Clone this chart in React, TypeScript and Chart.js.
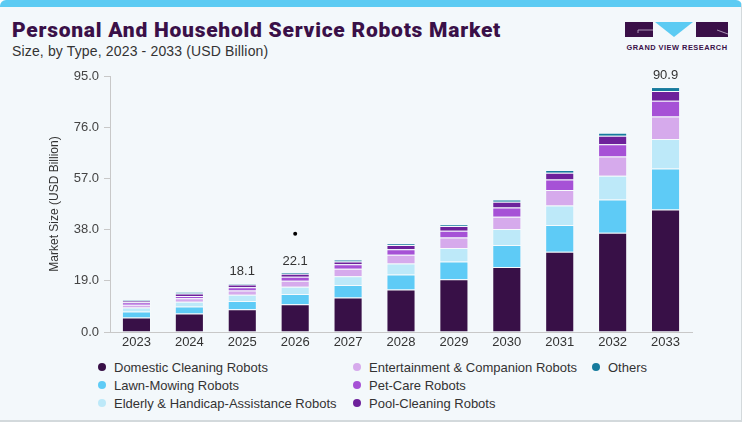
import React, { useEffect, useRef } from "react";
import { Chart, registerables } from "chart.js";

Chart.register(...registerables);

const years = ["2023", "2024", "2025", "2026", "2027", "2028", "2029", "2030", "2031", "2032", "2033"];

const domesticCleaning = [5.4, 6.9, 8.4, 10.3, 12.8, 15.8, 19.6, 24.1, 29.8, 36.8, 45.5];
const lawnMowing = [2.2, 2.6, 3.1, 3.8, 4.6, 5.5, 6.6, 8.2, 9.9, 12.4, 15.2];
const elderlyAssistance = [1.5, 1.7, 2.3, 2.7, 3.3, 4.1, 5.0, 5.9, 7.2, 8.8, 10.9];
const entertainment = [1.0, 1.3, 1.6, 2.2, 2.8, 3.3, 3.9, 4.6, 5.8, 7.1, 8.4];
const petCare = [0.9, 0.9, 1.2, 1.5, 1.6, 2.0, 2.5, 3.4, 3.9, 4.6, 5.8];
const poolCleaning = [0.7, 0.9, 1.0, 1.1, 1.1, 1.6, 1.7, 2.1, 2.5, 3.1, 3.6];
const others = [0.4, 0.5, 0.5, 0.5, 0.6, 0.6, 0.7, 0.9, 1.0, 1.1, 1.5];

const seriesNames = [
  "Domestic Cleaning Robots",
  "Lawn-Mowing Robots",
  "Elderly & Handicap-Assistance Robots",
  "Entertainment & Companion Robots",
  "Pet-Care Robots",
  "Pool-Cleaning Robots",
  "Others",
];
const seriesValues = [domesticCleaning, lawnMowing, elderlyAssistance, entertainment, petCare, poolCleaning, others];
const seriesColors = ["#381047", "#5ecbf6", "#bde9f9", "#d6aaec", "#a651d6", "#6d219b", "#167b9d"];

const labeledYears = ["2025", "2026", "2033"];
const strayMarker = [null, null, null, 36.5, null, null, null, null, null, null, null];

const yMin = 0;
const yMax = 95;
const yStep = 19;

const FONT = "'Liberation Sans', Arial, sans-serif";

const totalsPlugin = {
  id: "totals",
  afterDatasetsDraw(chart: any) {
    const ctx = chart.ctx;
    const topMeta = chart.getDatasetMeta(seriesNames.length - 1);
    ctx.save();
    ctx.font = `13px ${FONT}`;
    ctx.fillStyle = "#333333";
    ctx.textAlign = "center";
    ctx.textBaseline = "bottom";
    years.forEach((yr, i) => {
      if (!labeledYears.includes(yr)) return;
      const total = seriesValues.reduce((s, arr) => s + arr[i], 0);
      const el = topMeta.data[i];
      ctx.fillText((Math.round(total * 10) / 10).toFixed(1), el.x, el.y - 5);
    });
    ctx.restore();
  },
};

function ChartCanvas() {
  const ref = useRef<HTMLCanvasElement>(null);
  useEffect(() => {
    if (!ref.current) return;
    const datasets: any[] = seriesNames.map((name, k) => ({
      type: "bar",
      label: name,
      data: seriesValues[k],
      backgroundColor: seriesColors[k],
      borderColor: "rgba(255,255,255,0.3)",
      borderWidth: 1,
      stack: "market",
      barPercentage: 0.55,
      categoryPercentage: 1,
    }));
    datasets.push({
      type: "line",
      label: "marker",
      data: strayMarker,
      showLine: false,
      pointRadius: 2,
      pointBackgroundColor: "#000000",
      pointBorderWidth: 0,
      stack: "marker",
    });
    const chart = new Chart(ref.current, {
      type: "bar",
      data: { labels: years, datasets },
      options: {
        animation: false,
        responsive: true,
        maintainAspectRatio: false,
        layout: { padding: { top: 76, right: 54, left: 0, bottom: 0 } },
        plugins: { legend: { display: false }, tooltip: { enabled: false } },
        scales: {
          x: {
            stacked: true,
            grid: { display: false, drawTicks: false },
            border: { display: true, color: "#c8c8c8", width: 1 },
            ticks: { color: "#333333", font: { family: FONT, size: 13 }, padding: 3 },
            afterFit: (s: any) => {
              s.height = 24;
            },
          },
          y: {
            stacked: true,
            min: yMin,
            max: yMax,
            grid: { display: true, drawOnChartArea: false, drawTicks: true, tickLength: 6, color: "#c8c8c8" },
            border: { display: true, color: "#c8c8c8", width: 1 },
            ticks: {
              stepSize: yStep,
              color: "#444444",
              font: { family: FONT, size: 13 },
              padding: 5,
              callback: (v: any) => Number(v).toFixed(1),
            },
            title: {
              display: true,
              text: "Market Size (USD Billion)",
              color: "#333333",
              font: { family: FONT, size: 12 },
              padding: { top: 47, bottom: 0 },
            },
            afterFit: (s: any) => {
              s.width = 110;
            },
          },
        },
      },
      plugins: [totalsPlugin],
    });
    return () => chart.destroy();
  }, []);
  return <canvas ref={ref} />;
}

const legendCols = [98, 353, 592];
const legendRows = [359, 377, 395];
const legendOrder = [
  [0, 0, 0],
  [1, 0, 1],
  [2, 0, 2],
  [3, 1, 0],
  [4, 1, 1],
  [5, 1, 2],
  [6, 2, 0],
];

function Logo() {
  return (
    <svg width={106} height={34} style={{ position: "absolute", left: 624, top: 19 }} viewBox="0 0 106 34">
      <rect x={1} y={3} width={28} height={15} fill="#3a1048" />
      <path d="M14 14 V11 H29" stroke="#c9b8d3" strokeWidth={0.8} fill="none" />
      <polygon points="31,3 69,3 50,18" fill="#5ccbf3" />
      <rect x={72} y={3} width={32} height={15} fill="#3a1048" />
      <path d="M93 11 L104 15" stroke="#c9b8d3" strokeWidth={0.8} fill="none" />
      <text
        x={53}
        y={31}
        textAnchor="middle"
        fontFamily={FONT}
        fontWeight={700}
        fontSize={7.4}
        letterSpacing={0.5}
        fill="#3a1048"
      >
        GRAND VIEW RESEARCH
      </text>
    </svg>
  );
}

export default function App() {
  return (
    <div style={{ position: "fixed", left: 0, top: 0, width: 746, height: 424, background: "#ffffff", overflow: "hidden" }}>
      <div
        style={{
          position: "absolute",
          left: 0,
          top: 0,
          width: 741,
          height: 413,
          background: "#f3f8fb",
          borderTop: "7px solid #5ccbf3",
          borderRight: "1px solid #d3d9dc",
          borderBottom: "2px solid #d3d9dc",
          borderRadius: "6px 6px 0 0",
        }}
      />
      <div
        style={{
          position: "absolute",
          left: 12,
          top: 18,
          fontFamily: "Roboto, 'Liberation Sans', sans-serif",
          fontWeight: 900,
          fontSize: 21,
          letterSpacing: 0.75,
          color: "#3a1048",
          whiteSpace: "nowrap",
          lineHeight: "25px",
        }}
      >
        Personal And Household Service Robots Market
      </div>
      <div
        style={{
          position: "absolute",
          left: 12,
          top: 43,
          fontFamily: FONT,
          fontSize: 14,
          letterSpacing: 0.15,
          color: "#333333",
          whiteSpace: "nowrap",
          lineHeight: "16px",
        }}
      >
        Size, by Type, 2023 - 2033 (USD Billion)
      </div>
      <Logo />
      <div style={{ position: "absolute", left: 0, top: 0, width: 746, height: 356 }}>
        <ChartCanvas />
      </div>
      {legendOrder.map(([k, c, r]) => (
        <div
          key={k}
          style={{
            position: "absolute",
            left: legendCols[c],
            top: legendRows[r],
            height: 16,
            display: "flex",
            alignItems: "center",
            whiteSpace: "nowrap",
            fontFamily: FONT,
            fontSize: 13,
            color: "#333333",
          }}
        >
          <span
            style={{
              display: "inline-block",
              width: 8,
              height: 8,
              borderRadius: "50%",
              background: seriesColors[k],
              marginRight: 8,
            }}
          />
          {seriesNames[k]}
        </div>
      ))}
    </div>
  );
}
